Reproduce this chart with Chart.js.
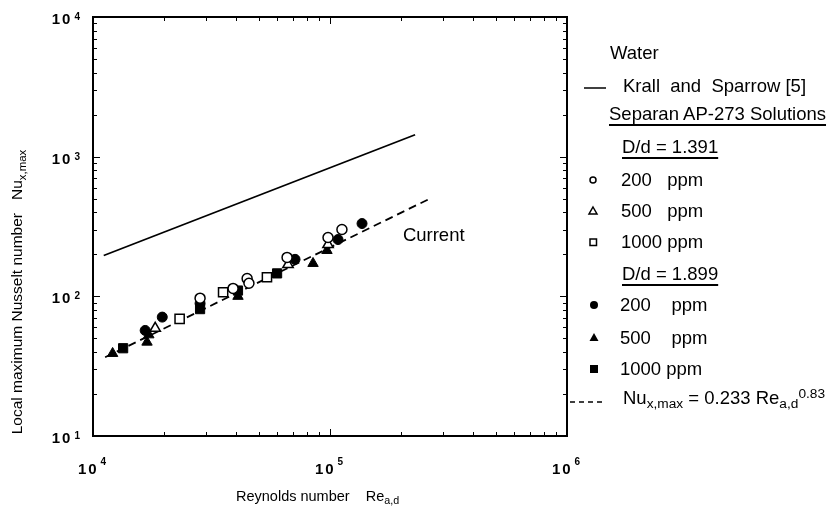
<!DOCTYPE html>
<html>
<head>
<meta charset="utf-8">
<title>Local maximum Nusselt number</title>
<script src="https://cdn.jsdelivr.net/npm/chart.js@4.4.1/dist/chart.umd.min.js"></script>
<style>
    body { margin: 0; background: #fff; }
    #wrap { position: relative; width: 833px; height: 512px; font-family: "Liberation Sans", Arial, sans-serif; color: #000; overflow: hidden; }
    #chart { position: absolute; left: 0; top: 0; }
    #marks { position: absolute; left: 0; top: 0; }
    .txt { position: absolute; white-space: pre; line-height: 20px; font-size: 18.5px; }
    .ul { text-decoration: underline; text-decoration-thickness: 1.5px; text-underline-offset: 4px; }
    .axis { position: absolute; white-space: pre; font-size: 14.5px; line-height: 18px; }
    .sub { font-size: 0.74em; position: relative; top: 0.32em; }
    .sup { font-size: 0.74em; position: relative; top: -0.45em; }
    #ytitle { left: 17px; top: 292px; font-size: 15.5px; transform: translate(-50%, -50%) rotate(-90deg); }
</style>
</head>
<body>
<div id="wrap">
    <canvas id="chart" width="833" height="512"></canvas>

    <!-- legend symbols -->
    <svg id="marks" width="833" height="512">
        <line x1="584" y1="88" x2="606" y2="88" stroke="#000" stroke-width="1.5"/>
        <circle cx="593" cy="180" r="3" fill="#fff" stroke="#000" stroke-width="1.5"/>
        <polygon points="593,207 597,214 589,214" fill="#fff" stroke="#000" stroke-width="1.5"/>
        <rect x="590" y="239" width="6.5" height="6.5" fill="#fff" stroke="#000" stroke-width="1.5"/>
        <circle cx="594" cy="305" r="4" fill="#000"/>
        <polygon points="594,333 598.5,341 589.5,341" fill="#000"/>
        <rect x="590" y="365" width="8" height="8" fill="#000"/>
        <line x1="570" y1="402" x2="602" y2="402" stroke="#000" stroke-width="1.5" stroke-dasharray="5,4"/>
    </svg>

    <div class="txt" style="left:610px; top:43px">Water</div>
    <div class="txt" style="left:623px; top:76px">Krall  and  Sparrow [5]</div>
    <div class="txt ul" style="left:609px; top:104px">Separan AP-273 Solutions</div>
    <div class="txt ul" style="left:622px; top:137px">D/d = 1.391</div>
    <div class="txt" style="left:621px; top:170px">200   ppm</div>
    <div class="txt" style="left:621px; top:201px">500   ppm</div>
    <div class="txt" style="left:621px; top:232px">1000 ppm</div>
    <div class="txt ul" style="left:622px; top:264px">D/d = 1.899</div>
    <div class="txt" style="left:620px; top:295px">200    ppm</div>
    <div class="txt" style="left:620px; top:328px">500    ppm</div>
    <div class="txt" style="left:620px; top:359px">1000 ppm</div>
    <div class="txt" style="left:623px; top:388px">Nu<span class="sub">x,max</span> = 0.233 Re<span class="sub">a,d</span><span class="sup">0.83</span></div>

    <div class="axis" style="left:236px; top:487px">Reynolds number    Re<span class="sub">a,d</span></div>
    <div class="axis" id="ytitle">Local maximum Nusselt number   Nu<span class="sub">x,max</span></div>
</div>

<script>
// decades for the log axes
const decadesX = [1e4, 1e5, 1e6];
const decadesY = [1e1, 1e2, 1e3, 1e4];

// Krall and Sparrow (water) and the correlation for the current data
const krallRe = [11100, 228600];
const krallNu = [196, 1436];
const fitRe = [11250, 266700];
const fitNu = [36.6, 505];

// D/d = 1.391
const open200Re = [28300, 39000, 44700, 45500, 65900, 98100, 112300];
const open200Nu = [97, 114, 134, 124, 190, 264, 301];
const open500Re = [18300, 66500, 98100];
const open500Nu = [59, 169, 235];
const open1000Re = [23200, 35400, 54200];
const open1000Nu = [69, 107, 137];

// D/d = 1.899
const solid200Re = [16600, 19600, 28300, 71200, 108100, 136500];
const solid200Nu = [57, 71, 89, 184, 255, 332];
const solid500Re = [12100, 16900, 17200, 40900, 84800, 97100];
const solid500Nu = [39, 47, 53, 100, 172, 213];
const solid1000Re = [13400, 28300, 40900, 59800];
const solid1000Nu = [42.5, 81, 110, 146];

const FONT = '"Liberation Sans", Arial, sans-serif';

function toPoints(xs, ys) {
    return xs.map((x, i) => ({ x: x, y: ys[i] }));
}

function markers(xs, ys, style, radius, filled) {
    return {
        data: toPoints(xs, ys),
        pointStyle: style,
        pointRadius: radius,
        backgroundColor: filled ? '#000' : '#fff',
        borderColor: '#000',
        borderWidth: filled ? 1 : 1.5,
        showLine: false,
        order: 1
    };
}

function curve(xs, ys, dash) {
    return {
        data: toPoints(xs, ys),
        showLine: true,
        pointRadius: 0,
        borderColor: '#000',
        borderWidth: 1.8,
        borderDash: dash,
        fill: false,
        order: 10
    };
}

// frame, inward ticks on all four sides, 10^n labels and the "Current" note
const framePlugin = {
    id: 'frame',
    afterDraw(chart) {
        const ctx = chart.ctx;
        const { left, right, top, bottom } = chart.chartArea;
        const x = chart.scales.x;
        const y = chart.scales.y;

        ctx.save();
        ctx.strokeStyle = '#000';
        ctx.lineWidth = 2;
        ctx.strokeRect(left, top, right - left, bottom - top);

        ctx.lineWidth = 1;
        ctx.beginPath();
        decadesX.slice(0, -1).forEach(d => {
            for (let m = 1; m <= 10; m++) {
                const px = Math.round(x.getPixelForValue(d * m)) + 0.5;
                const len = (m === 1 || m === 10) ? 7 : 4;
                ctx.moveTo(px, bottom); ctx.lineTo(px, bottom - len);
                ctx.moveTo(px, top); ctx.lineTo(px, top + len);
            }
        });
        decadesY.slice(0, -1).forEach(d => {
            for (let m = 1; m <= 10; m++) {
                const py = Math.round(y.getPixelForValue(d * m)) + 0.5;
                const len = (m === 1 || m === 10) ? 7 : 4;
                ctx.moveTo(left, py); ctx.lineTo(left + len, py);
                ctx.moveTo(right, py); ctx.lineTo(right - len, py);
            }
        });
        ctx.stroke();

        ctx.fillStyle = '#000';
        ctx.textBaseline = 'alphabetic';
        ctx.letterSpacing = '2px';
        const baseFont = 'bold 15px ' + FONT;
        const expFont = 'bold 10px ' + FONT;

        decadesX.forEach(d => {
            const exp = String(Math.round(Math.log10(d)));
            ctx.font = baseFont;
            const w1 = ctx.measureText('10').width;
            ctx.font = expFont;
            const w2 = ctx.measureText(exp).width;
            const px = x.getPixelForValue(d);
            const start = px - (w1 + 2 + w2) / 2;
            ctx.textAlign = 'left';
            ctx.font = baseFont;
            ctx.fillText('10', start, bottom + 38);
            ctx.font = expFont;
            ctx.fillText(exp, start + w1 + 2, bottom + 29);
        });

        decadesY.forEach(d => {
            const exp = String(Math.round(Math.log10(d)));
            const py = y.getPixelForValue(d);
            ctx.font = expFont;
            const w2 = ctx.measureText(exp).width;
            ctx.textAlign = 'left';
            ctx.fillText(exp, left - 11 - w2, py + 3);
            ctx.textAlign = 'right';
            ctx.font = baseFont;
            ctx.fillText('10', left - 13 - w2, py + 7);
        });

        ctx.letterSpacing = '0px';
        ctx.textAlign = 'left';
        ctx.textBaseline = 'middle';
        ctx.font = '18.5px ' + FONT;
        ctx.fillText('Current', x.getPixelForValue(203000), y.getPixelForValue(273));
        ctx.restore();
    }
};

new Chart(document.getElementById('chart'), {
    type: 'scatter',
    data: {
        datasets: [
            curve(krallRe, krallNu, []),
            curve(fitRe, fitNu, [8, 5]),
            markers(open200Re, open200Nu, 'circle', 5, false),
            markers(open500Re, open500Nu, 'triangle', 6, false),
            markers(open1000Re, open1000Nu, 'rect', 6.5, false),
            markers(solid200Re, solid200Nu, 'circle', 5, true),
            markers(solid500Re, solid500Nu, 'triangle', 6, true),
            markers(solid1000Re, solid1000Nu, 'rect', 6.5, true)
        ]
    },
    options: {
        responsive: false,
        animation: false,
        events: [],
        devicePixelRatio: 1,
        layout: { padding: { left: 93, right: 266, top: 17, bottom: 76 } },
        plugins: {
            legend: { display: false },
            tooltip: { enabled: false }
        },
        scales: {
            x: { type: 'logarithmic', min: 1e4, max: 1e6, display: false },
            y: { type: 'logarithmic', min: 10, max: 1e4, display: false }
        }
    },
    plugins: [framePlugin]
});
</script>
</body>
</html>
